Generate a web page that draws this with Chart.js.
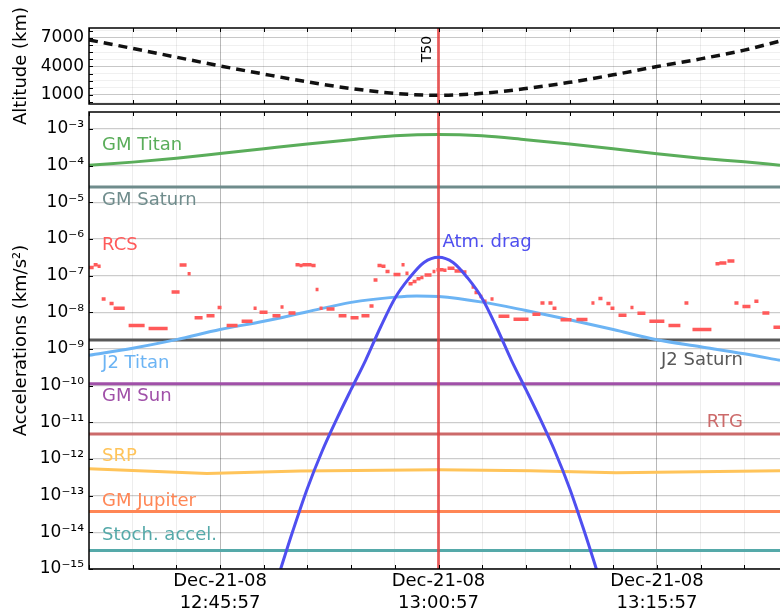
<!DOCTYPE html>
<html>
<head>
<meta charset="utf-8">
<script src="https://cdn.jsdelivr.net/npm/chart.js@4.4.1/dist/chart.umd.min.js"></script>
<style>
  html, body { margin: 0; padding: 0; background: #fff; }
  #wrap { position: relative; width: 780px; height: 614px; overflow: hidden; }
  canvas { position: absolute; left: 0; }
  #altChart { top: 0; }
  #accChart { top: 80px; }
</style>
</head>
<body>
<div id="wrap">
  <canvas id="altChart" width="780" height="140"></canvas>
  <canvas id="accChart" width="780" height="534"></canvas>
</div>
<script>
// time in minutes relative to the T50 closest approach (Dec-21-08 13:00:57)
const tMin = -24.0, tMax = 23.45;
const gridTimes = [-24, -21, -18, -15, -12, -9, -6, -3, 0, 3, 6, 9, 12, 15, 18, 21];
const labelTimes = [-15, 0, 15];
const labelDates = [["Dec-21-08", "12:45:57"], ["Dec-21-08", "13:00:57"], ["Dec-21-08", "13:15:57"]];
const t50 = 0;

// altitude panel
const altTimes = [-24, -21, -18, -15, -12, -9, -6, -3, 0, 3, 6, 9, 12, 15, 18, 21, 23.45];
const altitude = [6800, 5900, 4980, 4060, 3200, 2380, 1680, 1170, 960, 1170, 1680, 2330, 3120, 3990, 4800, 5720, 6680];
const altLabelTicks = [1000, 4000, 7000];
const altGridTicks = [250, 1000, 1750, 2500, 3250, 4000, 4750, 5500, 6250, 7000, 7750];

// acceleration panel (km/s^2)
const accExp = [-15, -14, -13, -12, -11, -10, -9, -8, -7, -6, -5, -4, -3];
const gmTitan = [1.02e-4, 1.25e-4, 1.6e-4, 2.15e-4, 2.9e-4, 3.9e-4, 5.1e-4, 6.5e-4, 7.1e-4, 6.5e-4, 5.1e-4, 3.9e-4, 2.9e-4, 2.1e-4, 1.6e-4, 1.27e-4, 1.03e-4];
const j2TitanTimes = [-24, -21, -18, -15, -12, -9, -6, -3, -1.5, 0, 3, 6, 9, 12, 15, 18, 21, 23.45];
const j2Titan = [6.7e-10, 1.05e-9, 1.8e-9, 3.4e-9, 5.7e-9, 1.04e-8, 1.87e-8, 2.6e-8, 2.8e-8, 2.7e-8, 1.9e-8, 1.12e-8, 6.3e-9, 3.4e-9, 1.78e-9, 1.15e-9, 7.4e-10, 4.9e-10];
const dragTimes = [-11, -10, -9, -8, -7, -6, -5, -4, -3, -2, -1, 0, 1, 2, 3, 4, 5, 6, 7, 8, 9, 10, 11];
const atmDrag = [6.3e-16, 1.1e-14, 1.6e-13, 1.6e-12, 1.2e-11, 7.9e-11, 5.0e-10, 3.8e-9, 2.4e-8, 8.7e-8, 2.3e-7, 3.2e-7,
                 2.3e-7, 8.7e-8, 2.4e-8, 3.8e-9, 5.0e-10, 7.9e-11, 1.2e-11, 1.6e-12, 1.6e-13, 1.1e-14, 6.3e-16];
const srpTimes = [-24, -15.9, -9.5, 0, 6.3, 12.2, 23.45];
const srp = [5.4e-13, 4.0e-13, 4.7e-13, 5.1e-13, 4.8e-13, 4.2e-13, 4.8e-13];
const gmSaturn = 2.63e-5;
const j2Saturn = 1.76e-9;
const gmSun = 1.13e-10;
const rtg = 4.8e-12;
const gmJupiter = 3.7e-14;
const stochAccel = 3.2e-15;

// RCS events: start, end (minutes) and level
const rcsStart = [-24.2, -24.03, -23.68, -23.41, -23.13, -22.59, -22.31, -21.28, -19.91, -18.33, -17.78, -17.23, -16.75, -15.93, -15.17,
  -14.55, -13.52, -12.7, -12.29, -11.4, -10.85, -10.3, -9.82, -9.54, -9.34, -8.72, -8.44, -8.17, -7.69, -6.86, -6.04, -5.29, -4.74,
  -4.46, -4.19, -3.91, -3.64, -3.09, -2.54, -2.27, -2.06, -1.78, -1.51, -1.24, -0.96, -0.41, -0.14, 0.34, 0.62, 1.1, 1.65, 2.27,
  2.47, 2.81, 3.02, 3.57, 4.12, 5.15, 6.45, 7.0, 7.55, 7.83, 8.38, 9.47, 10.5, 10.98, 11.53, 11.81, 12.36, 13.18, 13.66, 14.48,
  15.79, 16.89, 17.44, 19.02, 19.29, 19.84, 20.32, 20.87, 21.69, 22.24, 23.0];
const rcsEnd = [-23.95, -23.68, -23.41, -23.2, -22.86, -22.31, -21.55, -20.18, -18.6, -17.78, -17.3, -17.02, -16.2, -15.38, -14.9,
  -13.8, -12.77, -12.49, -11.74, -10.85, -10.64, -9.82, -9.54, -9.34, -8.72, -8.44, -8.24, -7.96, -7.14, -6.32, -5.49, -4.74, -4.46,
  -4.19, -3.91, -3.64, -3.36, -2.61, -2.33, -2.06, -1.78, -1.51, -1.24, -1.03, -0.48, -0.21, 0.34, 0.55, 1.1, 1.65, 1.92, 2.47,
  2.75, 3.02, 3.3, 3.78, 4.87, 6.18, 7.0, 7.28, 7.83, 8.1, 9.13, 10.23, 10.71, 11.26, 11.81, 12.08, 12.91, 13.39, 14.21, 15.51,
  16.61, 17.16, 18.74, 19.29, 19.77, 20.32, 20.6, 21.42, 21.97, 22.72, 23.5];
const rcsVal = [1.9e-8, 1.66e-7, 2.0e-7, 1.8e-7, 2.3e-8, 1.74e-8, 1.3e-8, 4.4e-9, 3.6e-9, 3.6e-8, 1.95e-7, 1.12e-7, 7.1e-9, 8.1e-9, 1.35e-8,
  4.4e-9, 5.7e-9, 1.3e-8, 1.0e-8, 8.1e-9, 1.4e-8, 9.6e-9, 2.0e-7, 1.9e-7, 2.0e-7, 1.9e-7, 4.2e-8, 1.3e-8, 1.23e-8, 8.1e-9, 7.1e-9, 8.1e-9, 1.5e-8,
  7.6e-8, 1.9e-7, 1.8e-7, 1.3e-7, 1.07e-7, 2.0e-7, 1.17e-7, 6.0e-8, 6.9e-8, 8.3e-8, 8.9e-8, 1.04e-7, 1.3e-7, 1.45e-7, 1.4e-7, 1.6e-7, 1.35e-7, 1.25e-7, 4.9e-8,
  3.5e-8, 2.7e-8, 2.0e-8, 2.3e-8, 7.8e-9, 6.5e-9, 8.9e-9, 1.8e-8, 1.8e-8, 1.3e-8, 6.3e-9, 6.4e-9, 1.8e-8, 2.4e-8, 1.74e-8, 1.3e-8, 8.3e-9, 1.35e-8, 9.4e-9, 5.7e-9,
  4.4e-9, 1.8e-8, 3.4e-9, 2.1e-7, 2.2e-7, 2.5e-7, 1.8e-8, 1.45e-8, 2.0e-8, 9.6e-9, 3.9e-9];

const colors = {
  gmTitan: '#5aad5a', gmSaturn: '#6f8c8c', rcs: '#ff5a5a', drag: '#4f4ff0', j2Titan: '#6cb4f4',
  j2Saturn: '#585858', gmSun: '#a050a8', rtg: '#cc6a6a', srp: '#ffc45a', gmJupiter: '#ff8655',
  stoch: '#55a9a9', t50: 'rgba(235,60,60,0.75)'
};

Chart.defaults.font.family = 'DejaVu Sans';
Chart.defaults.color = '#000';

const sup = {'-': '⁻', '0': '⁰', '1': '¹', '2': '²', '3': '³', '4': '⁴', '5': '⁵', '6': '⁶', '7': '⁷', '8': '⁸', '9': '⁹'};
const powLabel = e => '10' + String(e).split('').map(c => sup[c]).join('');

const pts = (xs, ys) => xs.map((x, i) => ({x: x, y: ys[i]}));
const flat = v => [{x: tMin, y: v}, {x: tMax, y: v}];

const xGridColor = ctx => (ctx.tick && ctx.tick.value % 15 === 0) ? 'rgba(0,0,0,0.28)' : 'rgba(0,0,0,0.07)';

function xScale(showLabels, height) {
  return {
    type: 'linear', min: tMin, max: tMax,
    afterBuildTicks: s => { s.ticks = gridTimes.map(v => ({value: v})); },
    afterFit: s => { s.height = height; },
    grid: { color: xGridColor, drawTicks: false },
    border: { display: false },
    ticks: {
      display: showLabels, autoSkip: false, maxRotation: 0, padding: 1,
      font: { size: 18, lineHeight: 1.22 },
      callback: v => { const i = labelTimes.indexOf(v); return i < 0 ? '' : labelDates[i]; }
    }
  };
}

const framePlugin = {
  id: 'frame',
  afterDraw(chart) {
    const {ctx, chartArea: a, scales} = chart;
    ctx.save();
    ctx.strokeStyle = '#000';
    ctx.lineWidth = 1;
    ctx.beginPath();
    scales.x.ticks.forEach(tk => {
      const px = Math.round(scales.x.getPixelForValue(tk.value)) + 0.5;
      ctx.moveTo(px, a.bottom); ctx.lineTo(px, a.bottom - 4);
      ctx.moveTo(px, a.top); ctx.lineTo(px, a.top + 4);
    });
    scales.y.ticks.forEach(tk => {
      const py = Math.round(scales.y.getPixelForValue(tk.value)) + 0.5;
      ctx.moveTo(a.left, py); ctx.lineTo(a.left + 4, py);
    });
    ctx.stroke();
    ctx.lineWidth = 1.5;
    ctx.beginPath();
    ctx.moveTo(a.right + 2, a.top); ctx.lineTo(a.left, a.top);
    ctx.lineTo(a.left, a.bottom); ctx.lineTo(a.right + 2, a.bottom);
    ctx.stroke();
    ctx.restore();
  }
};

// top panel: altitude
new Chart(document.getElementById('altChart'), {
  type: 'line',
  data: {
    datasets: [
      { data: [{x: t50, y: 50}, {x: t50, y: 8050}], borderColor: colors.t50, borderWidth: 3, pointRadius: 0 },
      { data: pts(altTimes, altitude), borderColor: '#111', borderWidth: 3.5, borderDash: [9, 6],
        pointRadius: 0, cubicInterpolationMode: 'monotone' }
    ]
  },
  options: {
    responsive: false, animation: false, devicePixelRatio: 1,
    layout: { padding: { top: 28, right: 0, left: 0, bottom: 0 } },
    plugins: { legend: { display: false }, tooltip: { enabled: false } },
    scales: {
      x: xScale(false, 36),
      y: {
        type: 'linear', min: 50, max: 8050,
        afterBuildTicks: s => { s.ticks = altGridTicks.map(v => ({value: v})); },
        afterFit: s => { s.width = 89; },
        grid: { color: ctx => altLabelTicks.includes(ctx.tick && ctx.tick.value) ? 'rgba(0,0,0,0.22)' : 'rgba(0,0,0,0.06)', drawTicks: false },
        border: { display: false },
        ticks: { padding: 5, autoSkip: false, font: { size: 17 }, callback: v => altLabelTicks.includes(v) ? String(v) : '' },
        title: { display: true, text: 'Altitude (km)', font: { size: 18 }, padding: { top: 11, bottom: 0 } }
      }
    }
  },
  plugins: [framePlugin, {
    id: 't50text',
    afterDraw(chart) {
      const {ctx, chartArea: a, scales} = chart;
      ctx.save();
      ctx.translate(scales.x.getPixelForValue(t50) - 11, a.top + 21);
      ctx.rotate(-Math.PI / 2);
      ctx.font = '14px "DejaVu Sans"';
      ctx.fillStyle = '#000';
      ctx.textAlign = 'center';
      ctx.textBaseline = 'middle';
      ctx.fillText('T50', 0, 0);
      ctx.restore();
    }
  }]
});

// series name labels placed in data coordinates
const nameSpots = [
  { text: 'GM Titan', t: -23.1, v: 3.7e-4, color: colors.gmTitan, align: 'left' },
  { text: 'GM Saturn', t: -23.1, v: 1.17e-5, color: colors.gmSaturn, align: 'left' },
  { text: 'RCS', t: -23.1, v: 6.9e-7, color: colors.rcs, align: 'left' },
  { text: 'Atm. drag', t: 0.27, v: 7.9e-7, color: colors.drag, align: 'left' },
  { text: 'J2 Titan', t: -23.1, v: 4.0e-10, color: colors.j2Titan, align: 'left' },
  { text: 'J2 Saturn', t: 20.9, v: 4.9e-10, color: colors.j2Saturn, align: 'right' },
  { text: 'GM Sun', t: -23.1, v: 5.0e-11, color: colors.gmSun, align: 'left' },
  { text: 'RTG', t: 20.9, v: 1.0e-11, color: colors.rtg, align: 'right' },
  { text: 'SRP', t: -23.1, v: 1.17e-12, color: colors.srp, align: 'left' },
  { text: 'GM Jupiter', t: -23.1, v: 6.9e-14, color: colors.gmJupiter, align: 'left' },
  { text: 'Stoch. accel.', t: -23.1, v: 8.1e-15, color: colors.stoch, align: 'left' }
];

const rcsPoints = [];
rcsStart.forEach((s, i) => {
  rcsPoints.push({x: s, y: rcsVal[i]}, {x: rcsEnd[i], y: rcsVal[i]}, {x: rcsEnd[i], y: null});
});

const line = (data, color, extra) => Object.assign({ data: data, borderColor: color, borderWidth: 3, pointRadius: 0 }, extra || {});

new Chart(document.getElementById('accChart'), {
  type: 'line',
  data: {
    datasets: [
      line(pts(dragTimes, atmDrag), colors.drag, { cubicInterpolationMode: 'monotone' }),
      line(rcsPoints, colors.rcs, { borderWidth: 3.5, spanGaps: false, borderCapStyle: 'butt' }),
      line([{x: t50, y: 1e-16}, {x: t50, y: 1e-2}], colors.t50),
      line(pts(j2TitanTimes, j2Titan), colors.j2Titan, { cubicInterpolationMode: 'monotone' }),
      line(pts(altTimes, gmTitan), colors.gmTitan, { cubicInterpolationMode: 'monotone' }),
      line(flat(gmSaturn), colors.gmSaturn),
      line(flat(j2Saturn), colors.j2Saturn),
      line(flat(gmSun), colors.gmSun),
      line(flat(rtg), colors.rtg),
      line(pts(srpTimes, srp), colors.srp, { tension: 0 }),
      line(flat(gmJupiter), colors.gmJupiter),
      line(flat(stochAccel), colors.stoch)
    ]
  },
  options: {
    responsive: false, animation: false, devicePixelRatio: 1,
    layout: { padding: { top: 32, right: 0, left: 0, bottom: 0 } },
    plugins: { legend: { display: false }, tooltip: { enabled: false } },
    scales: {
      x: xScale(true, 45),
      y: {
        type: 'logarithmic', min: 1e-15, max: 2.91e-3,
        afterBuildTicks: s => { s.ticks = accExp.map(e => ({value: Math.pow(10, e)})); },
        afterFit: s => { s.width = 89; },
        grid: { color: 'rgba(0,0,0,0.2)', lineWidth: 1.3, drawTicks: false },
        border: { display: false },
        ticks: { padding: 5, autoSkip: false, font: { size: 17 }, callback: v => powLabel(Math.round(Math.log10(v))) },
        title: { display: true, text: 'Accelerations (km/s²)', font: { size: 18 }, padding: { top: 11, bottom: 0 } }
      }
    }
  },
  plugins: [framePlugin, {
    id: 'names',
    afterDatasetsDraw(chart) {
      const {ctx, scales} = chart;
      ctx.save();
      ctx.font = '18px "DejaVu Sans"';
      ctx.textBaseline = 'middle';
      nameSpots.forEach(n => {
        ctx.fillStyle = n.color;
        ctx.textAlign = n.align;
        ctx.fillText(n.text, scales.x.getPixelForValue(n.t), scales.y.getPixelForValue(n.v));
      });
      ctx.restore();
    }
  }]
});
</script>
</body>
</html>
